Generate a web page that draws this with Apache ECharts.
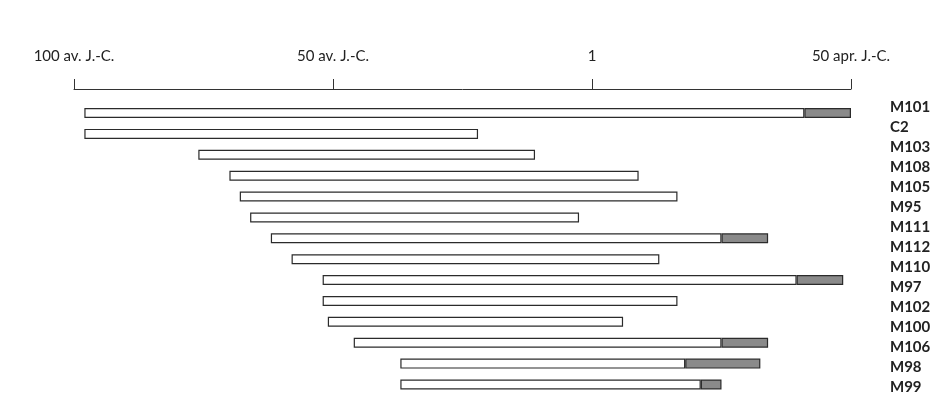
<!DOCTYPE html>
<html lang="fr">
<head>
    <meta charset="UTF-8">
    <title>Datations</title>
    <script src="https://cdn.jsdelivr.net/npm/echarts@6/dist/echarts.min.js"></script>
    <style>
        html, body { margin: 0; padding: 0; background: #fff; }
        #main { width: 942px; height: 420px; }
    </style>
</head>
<body>
<div id="main"></div>
<script type="text/javascript">
    // labels in the right column, top to bottom
    const labels = ['M101', 'C2', 'M103', 'M108', 'M105', 'M95', 'M111', 'M112', 'M110', 'M97', 'M102', 'M100', 'M106', 'M98', 'M99']
    // bars (14 rows), years: negative = av. J.-C.
    const barRows = labels.slice(1)
    const starts = [-98, -98, -76, -70, -68, -66, -62, -58, -52, -52, -51, -46, -37, -37]
    const ends = [50, -22, -11, 9, 16.5, -2.5, 34, 13, 48.5, 16.5, 6, 34, 32.5, 25]
    const grayFrom = [41, null, null, null, null, null, 25, null, 39.5, null, null, 25, 18, 21]
    const tickLabels = {'-100': '100 av. J.-C.', '-50': '50 av. J.-C.', '0': '1', '50': '50 apr. J.-C.'}

    const whiteLen = starts.map((s, i) => (grayFrom[i] !== null ? grayFrom[i] : ends[i]) - s)
    const grayLen = ends.map((e, i) => grayFrom[i] !== null ? e - grayFrom[i] : '-')

    const font = 'Lato, "Open Sans", sans-serif'
    const chart = echarts.init(document.getElementById('main'))
    chart.setOption({
        animation: false,
        backgroundColor: '#fff',
        grid: [
            {left: 74, right: 91, top: 102.6, height: 292.3},
            {left: 74, right: 62, top: 97, height: 300}
        ],
        xAxis: [
            {
                gridIndex: 0, type: 'value', position: 'top', offset: 13.6,
                min: -100, max: 50, interval: 50,
                axisLine: {show: true, lineStyle: {color: '#333', width: 1}},
                axisTick: {show: true, length: 10, lineStyle: {color: '#333'}},
                splitLine: {show: false},
                axisLabel: {
                    margin: 25, fontSize: 15, color: '#222', fontFamily: font,
                    formatter: v => tickLabels[String(v)] || ''
                }
            },
            {gridIndex: 1, type: 'value', show: false, min: 0, max: 1}
        ],
        yAxis: [
            {
                gridIndex: 0, type: 'category', data: barRows, inverse: true, show: false
            },
            {
                gridIndex: 1, type: 'category', data: labels, inverse: true, position: 'right',
                axisLine: {show: false}, axisTick: {show: false},
                axisLabel: {margin: 10, fontSize: 15, fontWeight: 'bold', color: '#222', fontFamily: font, align: 'left'}
            }
        ],
        series: [
            {
                type: 'bar', stack: 'd', stackStrategy: 'all', data: starts, barWidth: 10,
                itemStyle: {color: 'transparent', borderWidth: 0}, silent: true
            },
            {
                type: 'bar', stack: 'd', stackStrategy: 'all', data: whiteLen, barWidth: 10,
                itemStyle: {color: '#fff', borderColor: '#2b2b2b', borderWidth: 1.2}
            },
            {
                type: 'bar', stack: 'd', stackStrategy: 'all', data: grayLen, barWidth: 10,
                itemStyle: {color: '#8a8a8a', borderColor: '#2b2b2b', borderWidth: 1.2}
            }
        ]
    })
</script>
</body>
</html>
